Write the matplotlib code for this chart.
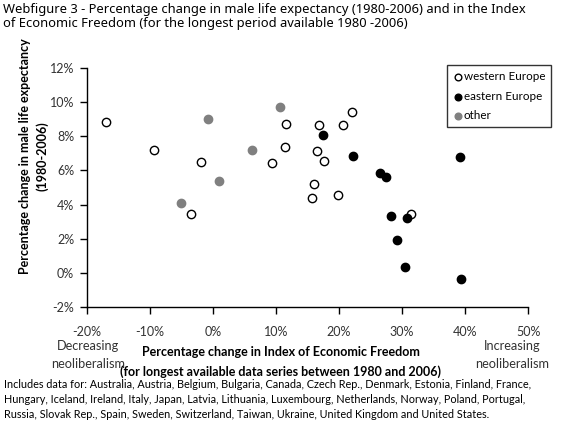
import matplotlib
matplotlib.use("Agg")
import matplotlib.pyplot as plt
from matplotlib.ticker import FuncFormatter, MultipleLocator

# Data: x = % change in Index of Economic Freedom, y = % change in male life expectancy
west_x = [-16.9, -9.3, -1.9, -3.5, 9.4, 11.6, 11.5, 16.9, 20.7, 22.0, 16.5, 17.6, 16.1, 15.7, 19.8, 31.4]
west_y = [8.81, 7.19, 6.51, 3.47, 6.43, 8.73, 7.37, 8.69, 8.69, 9.42, 7.15, 6.57, 5.19, 4.40, 4.58, 3.47]
east_x = [17.4, 22.2, 39.2, 26.5, 27.4, 28.3, 30.7, 29.2, 30.4, 39.3]
east_y = [8.09, 6.82, 6.78, 5.83, 5.61, 3.32, 3.24, 1.93, 0.37, -0.37]
other_x = [-0.7, 10.7, 6.2, 1.0, -5.1]
other_y = [9.0, 9.69, 7.19, 5.38, 4.11]

series_labels = ["western Europe", "eastern Europe", "other"]
title = ("Webfigure 3 - Percentage change in male life expectancy (1980-2006) and in the Index\n"
         "of Economic Freedom (for the longest period available 1980 -2006)")
footer = ("Includes data for: Australia, Austria, Belgium, Bulgaria, Canada, Czech Rep., Denmark, Estonia, Finland, France,\n"
          "Hungary, Iceland, Ireland, Italy, Japan, Latvia, Lithuania, Luxembourg, Netherlands, Norway, Poland, Portugal,\n"
          "Russia, Slovak Rep., Spain, Sweden, Switzerland, Taiwan, Ukraine, United Kingdom and United States.")

W, H = 568, 429
fig = plt.figure(figsize=(W / 100, H / 100), dpi=100)
ax = fig.add_axes([86.7 / W, 1 - 307 / H, (528.3 - 86.7) / W, (307 - 68) / H])

ms = 36
ax.scatter(west_x, west_y, s=ms, facecolors="white", edgecolors="black", linewidths=1.0, label=series_labels[0], zorder=3)
ax.scatter(east_x, east_y, s=ms, facecolors="black", edgecolors="black", linewidths=1.0, label=series_labels[1], zorder=3)
ax.scatter(other_x, other_y, s=ms, facecolors="#808080", edgecolors="#808080", linewidths=1.0, label=series_labels[2], zorder=3)

ax.set_xlim(-20, 50)
ax.set_ylim(-2, 12)
ax.xaxis.set_major_locator(MultipleLocator(10))
ax.yaxis.set_major_locator(MultipleLocator(2))
ax.xaxis.set_major_formatter(FuncFormatter(lambda v, p: f"{v:.0f}%"))
ax.yaxis.set_major_formatter(FuncFormatter(lambda v, p: f"{v:.0f}%"))
for s in ["top", "right"]:
    ax.spines[s].set_visible(False)
for s in ["left", "bottom"]:
    ax.spines[s].set_linewidth(1.0)
ax.tick_params(direction="out", length=5, width=1.0, labelsize=9, colors="black")
ax.tick_params(axis="x", pad=9)
ax.tick_params(axis="y", pad=4)
for lab in ax.get_xticklabels() + ax.get_yticklabels():
    lab.set_fontfamily("Lato")
    lab.set_color("#333333")

leg = fig.legend(loc="upper left", bbox_to_anchor=(447 / W, 1 - 65 / H), frameon=True, fancybox=False,
                 edgecolor="black", prop={"family": "Lato", "size": 8.4}, handletextpad=0.05,
                 borderpad=0.5, labelspacing=0.75, handlelength=0.9, borderaxespad=0, markerscale=0.8)
leg.get_frame().set_linewidth(1.0)

fig.text(3 / W, 1 - 3 / H, title, ha="left", va="top", fontsize=9.3, fontweight="semibold",
         family="Noto Sans", linespacing=1.1, color="black")

fig.text(34 / W, 1 - 156 / H, "Percentage change in male life expectancy\n(1980-2006)", rotation=90,
         ha="center", va="center", fontsize=9, fontweight="bold", family="Lato", linespacing=1.45, ma="center")

fig.text(281 / W, 1 - 362 / H, "Percentage change in Index of Economic Freedom\n(for longest available data series between 1980 and 2006)",
         ha="center", va="center", fontsize=9, fontweight="bold", family="Lato", linespacing=1.6)
fig.text(88 / W, 1 - 355 / H, "Decreasing\nneoliberalism", ha="center", va="center", fontsize=9.2,
         family="Lato", linespacing=1.6, color="#333333")
fig.text(512 / W, 1 - 355 / H, "Increasing\nneoliberalism", ha="center", va="center", fontsize=9.2,
         family="Lato", linespacing=1.6, color="#333333")

fig.text(4 / W, 1 - 379 / H, footer, ha="left", va="top", fontsize=7.8, family="Lato", linespacing=1.45)

fig.savefig("out.png", dpi=100)
